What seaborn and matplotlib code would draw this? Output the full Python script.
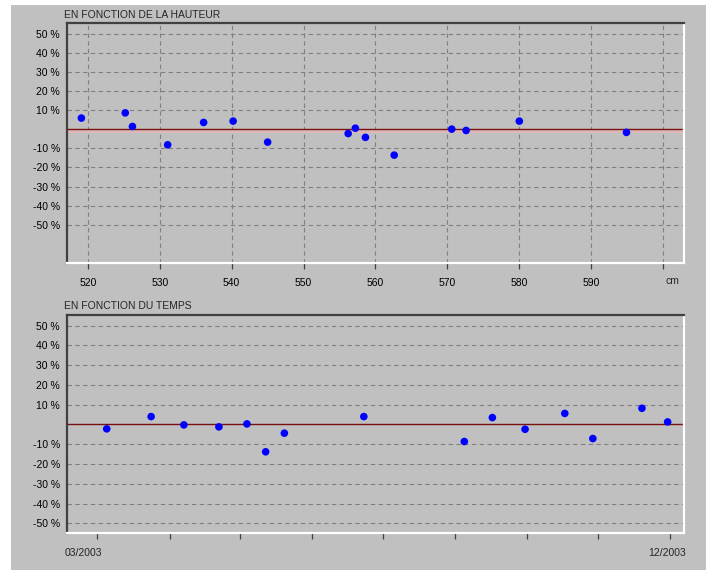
import matplotlib
matplotlib.use("Agg")
import matplotlib.pyplot as plt
from matplotlib.patches import Rectangle
import seaborn as sns
import pandas as pd

# ---- data ----
hauteur_cm = [519.1, 525.2, 526.2, 531.1, 536.1, 540.2, 545.0, 556.2, 557.2,
              558.6, 562.6, 570.6, 572.6, 580.0, 594.9]
ecart_hauteur = [5.8, 8.5, 1.4, -8.2, 3.5, 4.2, -6.8, -2.3, 0.5,
                 -4.3, -13.6, 0.0, -0.7, 4.2, -1.7]

dates = ["2003-03-05", "2003-03-24", "2003-04-07", "2003-04-22", "2003-05-04",
         "2003-05-12", "2003-05-20", "2003-06-23", "2003-08-05", "2003-08-17",
         "2003-08-31", "2003-09-17", "2003-09-29", "2003-10-20", "2003-10-31"]
ecart_temps = [-2.2, 4.0, -0.2, -1.2, 0.3, -13.8, -4.4, 4.0, -8.6, 3.5,
               -2.4, 5.6, -7.1, 8.2, 1.3]

y_ticks = [50, 40, 30, 20, 10, -10, -20, -30, -40, -50]
y_tick_labels = ["50 %", "40 %", "30 %", "20 %", "10 %", "-10 %", "-20 %",
                 "-30 %", "-40 %", "-50 %"]
x_ticks_cm = [520, 530, 540, 550, 560, 570, 580, 590, 600]
x_tick_labels_cm = ["520", "530", "540", "550", "560", "570", "580", "590", ""]
month_ticks = ["2003-03-01", "2003-04-01", "2003-05-01", "2003-06-01",
               "2003-07-01", "2003-08-01", "2003-09-01", "2003-10-01",
               "2003-11-01"]

df_h = pd.DataFrame({"hauteur": hauteur_cm, "ecart": ecart_hauteur})
df_t = pd.DataFrame({"date": pd.to_datetime(dates), "ecart": ecart_temps})

# ---- style ----
sns.set_style("white")
plt.rcParams["font.family"] = ["Liberation Sans", "DejaVu Sans"]
plt.rcParams["font.size"] = 7.5

GRAY = "#c0c0c0"
GRID = "#808080"
DARK = "#404040"

W, H = 712, 570
fig = plt.figure(figsize=(W / 100, H / 100), dpi=100, facecolor="white")
fig.patches.append(Rectangle((11 / W, 0), (706 - 11) / W, (570 - 5) / H,
                             transform=fig.transFigure, facecolor=GRAY,
                             edgecolor="none", zorder=-10))

def fx(px):
    return px / W

def fy(py):
    return 1 - py / H

ax1 = fig.add_axes([fx(67), fy(263), fx(684) - fx(67), fy(23) - fy(263)])
ax2 = fig.add_axes([fx(67), fy(533.3), fx(684) - fx(67), fy(314.7) - fy(533.3)])

def style_axes(ax):
    ax.set_facecolor(GRAY)
    for s in ("left", "top"):
        ax.spines[s].set_color(DARK)
        ax.spines[s].set_linewidth(1.6)
    for s in ("right", "bottom"):
        ax.spines[s].set_color("white")
        ax.spines[s].set_linewidth(1.6)
    ax.set_yticks(y_ticks)
    ax.set_yticklabels(y_tick_labels)
    ax.tick_params(axis="y", left=False, length=0, pad=5, labelsize=7.5,
                   colors="black")
    ax.tick_params(axis="x", bottom=True, direction="out", length=4,
                   width=0.9, color=DARK, pad=7, labelsize=7.5,
                   labelcolor="black")
    ax.set_xlabel("")
    ax.set_ylabel("")

# ---- top chart ----
ax1.axhspan(-2.0, 0, color="#deb8b8", lw=0, zorder=1)
ax1.axhline(0, color="#7a1010", lw=1.0, zorder=2)
sns.scatterplot(data=df_h, x="hauteur", y="ecart", ax=ax1, color="#0000ff",
                s=30, edgecolor="none", zorder=5, legend=False)
style_axes(ax1)
ax1.set_xlim(517.1, 602.9)
ax1.set_ylim(-70, 55.5)
ax1.set_xticks(x_ticks_cm)
ax1.set_xticklabels(x_tick_labels_cm)
for y in y_ticks:
    ax1.axhline(y, color=GRID, lw=0.8, ls=(0, (4, 3)), zorder=0)
for x in x_ticks_cm:
    ax1.axvline(x, color=GRID, lw=0.8, ls=(0, (4, 3)), zorder=0)
fig.text(fx(672.5), fy(281), "cm", ha="center", va="center", fontsize=7.5)
fig.text(fx(64), fy(15), "EN FONCTION DE LA HAUTEUR", ha="left", va="center",
         fontsize=7.5)

# ---- bottom chart ----
ax2.axhline(0, color="#7a1010", lw=1.0, zorder=2)
sns.scatterplot(data=df_t, x="date", y="ecart", ax=ax2, color="#0000ff",
                s=30, edgecolor="none", zorder=5, legend=False)
style_axes(ax2)
ax2.set_xlim(pd.Timestamp("2003-02-16"), pd.Timestamp("2003-11-07"))
ax2.set_ylim(-55, 55.5)
ax2.set_xticks(pd.to_datetime(month_ticks))
ax2.set_xticklabels([""] * len(month_ticks))
for y in y_ticks:
    ax2.axhline(y, color=GRID, lw=0.8, ls=(0, (4, 3)), zorder=0)
fig.text(fx(64), fy(306), "EN FONCTION DU TEMPS", ha="left", va="center",
         fontsize=7.5)
fig.text(fx(65), fy(553), "03/2003", ha="left", va="center", fontsize=7.5)
fig.text(fx(686), fy(553), "12/2003", ha="right", va="center", fontsize=7.5)

fig.savefig("out.png", dpi=100, facecolor="white")
